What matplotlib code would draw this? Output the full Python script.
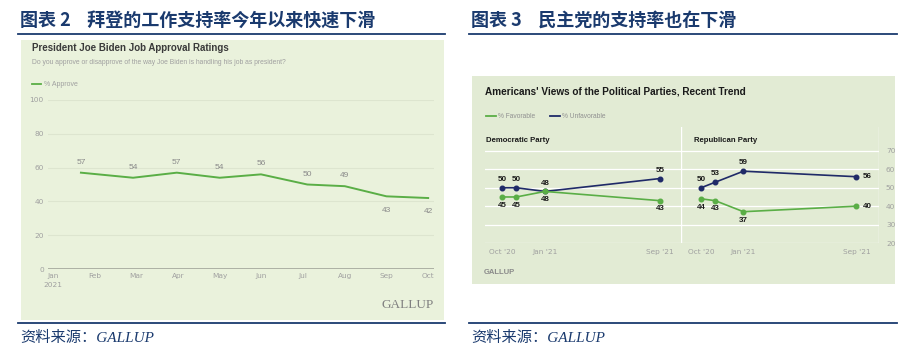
import matplotlib
matplotlib.use("Agg")
import matplotlib.pyplot as plt
from matplotlib.patches import Rectangle
from matplotlib.lines import Line2D

W, H = 912, 350

# ---------------- data ----------------
months = ["Jan\n2021", "Feb", "Mar", "Apr", "May", "Jun", "Jul", "Aug", "Sep", "Oct"]
approve_pos = [0.67, 1.92, 2.97, 4.0, 4.99, 6.1, 7.0, 8.0, 9.0]
approve = [57, 54, 57, 54, 56, 50, 49, 43, 42]
approve_yticks = [0, 20, 40, 60, 80, 100]

party_pos = [0, 1, 3, 11]            # months after Oct 2020
party_xticks = [0, 3, 11]
party_xlabels = ["Oct '20", "Jan '21", "Sep '21"]
dem_unfav = [50, 50, 48, 55]
dem_fav = [45, 45, 48, 43]
rep_unfav = [50, 53, 59, 56]
rep_fav = [44, 43, 37, 40]
party_yticks = [20, 30, 40, 50, 60, 70]

NAVY_T = "#1a3a6e"
GREEN = "#5aae46"
NAVY = "#1f2a68"
BG_L = "#eaf2dc"
BG_R = "#e2ebd4"


def fx(x):
    return x / W


def fy(y):
    return 1 - y / H


fig = plt.figure(figsize=(W / 100, H / 100), dpi=100)
fig.patch.set_facecolor("white")

# backgrounds
fig.patches.append(Rectangle((fx(21), fy(320)), (444 - 21) / W, (320 - 40) / H,
                             transform=fig.transFigure, facecolor=BG_L, edgecolor="none", zorder=-5))
fig.patches.append(Rectangle((fx(472), fy(284)), (895 - 472) / W, (284 - 76) / H,
                             transform=fig.transFigure, facecolor=BG_R, edgecolor="none", zorder=-5))

# rules
for (x0, x1) in [(18, 445), (469, 897)]:
    for y in (34, 323):
        fig.add_artist(Line2D([fx(x0), fx(x1)], [fy(y), fy(y)], transform=fig.transFigure,
                              color=NAVY_T, lw=1.3))

cjk = ["Noto Sans CJK SC", "DejaVu Sans"]
fig.text(fx(20), fy(20), "图表 2    拜登的工作支持率今年以来快速下滑", family=cjk, fontsize=13,
         fontweight="bold", color=NAVY_T, va="center", ha="left")
fig.text(fx(471), fy(20), "图表 3    民主党的支持率也在下滑", family=cjk, fontsize=13,
         fontweight="bold", color=NAVY_T, va="center", ha="left")
src_fam = ["Liberation Serif", "Noto Sans CJK SC"]
for x in (20, 471):
    fig.text(fx(x), fy(338), "资料来源：GALLUP", family=src_fam, fontsize=11, style="italic",
             color=NAVY_T, va="center", ha="left")

# ---------------- left chart ----------------
fig.text(fx(32), fy(48), "President Joe Biden Job Approval Ratings", fontsize=7.0,
         fontweight="bold", color="#3a3a3a", va="center", family="Liberation Sans")
fig.text(fx(32), fy(62), "Do you approve or disapprove of the way Joe Biden is handling his job as president?",
         fontsize=4.9, color="#a0a0a0", va="center", family="Liberation Sans")
fig.add_artist(Line2D([fx(32), fx(41)], [fy(84), fy(84)], transform=fig.transFigure, color=GREEN, lw=1.3))
fig.text(fx(44), fy(84), "% Approve", fontsize=5.0, color="#a0a0a0", va="center", family="Liberation Sans")
fig.text(fx(434), fy(305), "GALLUP", fontsize=9.5, color="#808080", va="center", ha="right",
         family="Liberation Serif")

axL = fig.add_axes([fx(48), fy(269), (434 - 48) / W, (269 - 100) / H])
axL.set_facecolor("none")
axL.set_xlim(-0.12, 9.14)
axL.set_ylim(0, 100)
for s in axL.spines.values():
    s.set_visible(False)
axL.set_yticks(approve_yticks)
axL.set_yticklabels([str(v) for v in approve_yticks])
axL.set_xticks(range(len(months)))
axL.set_xticklabels(months)
axL.tick_params(length=0, labelsize=5.3, labelcolor="#a0a0a0", pad=3)
for lab in axL.get_xticklabels():
    lab.set_linespacing(1.6)
axL.grid(axis="y", color="#dde5cf", lw=0.8)
axL.set_axisbelow(True)
axL.axhline(0, color="#a8aca0", lw=1.3)
axL.plot(approve_pos, approve, color=GREEN, lw=1.4, solid_joinstyle="round")
for i, (xp, v) in enumerate(zip(approve_pos, approve)):
    below = i >= len(approve) - 2
    axL.annotate(str(v), (xp, v), xytext=(0, -10 if below else 7.5), textcoords="offset points",
                 ha="center", va="center", fontsize=6, color="#8a8a8a", family="Liberation Sans")

# ---------------- right chart ----------------
fig.text(fx(485), fy(92), "Americans' Views of the Political Parties, Recent Trend", fontsize=7.2,
         fontweight="bold", color="#1a1a1a", va="center", family="Liberation Sans")
fig.add_artist(Line2D([fx(486), fx(496)], [fy(116), fy(116)], transform=fig.transFigure, color=GREEN, lw=1.3))
fig.text(fx(498), fy(116), "% Favorable", fontsize=4.8, color="#909090", va="center", family="Liberation Sans")
fig.add_artist(Line2D([fx(550), fx(560)], [fy(116), fy(116)], transform=fig.transFigure, color=NAVY, lw=1.3))
fig.text(fx(562), fy(116), "% Unfavorable", fontsize=4.8, color="#909090", va="center", family="Liberation Sans")
fig.text(fx(484), fy(273), "GALLUP", fontsize=5.5, color="#8a8a8a", va="center", family="Liberation Sans",
         fontweight="bold")

panels = [
    ("Democratic Party", 485, 681, 486, (-1.18, 12.47), dem_unfav, dem_fav),
    ("Republican Party", 681, 879, 694, (-1.42, 12.6), rep_unfav, rep_fav),
]
axes_r = []
for name, x0, x1, xn, xl, unfav, fav in panels:
    ax = fig.add_axes([fx(x0), fy(243), (x1 - x0) / W, (243 - 127) / H])
    ax.set_facecolor("none")
    ax.set_xlim(*xl)
    ax.set_ylim(20, 83)
    for s in ax.spines.values():
        s.set_visible(False)
    ax.set_yticks(party_yticks)
    ax.set_xticks(party_xticks)
    ax.set_xticklabels(party_xlabels)
    ax.tick_params(length=0, labelsize=5.3, labelcolor="#a0a0a0", pad=4)
    ax.grid(axis="y", color="white", lw=0.9)
    ax.set_axisbelow(True)
    ax.plot(party_pos, unfav, color=NAVY, lw=1.2, marker="o", ms=3.3, zorder=3)
    ax.plot(party_pos, fav, color=GREEN, lw=1.2, marker="o", ms=3.3, zorder=3)
    fig.text(fx(xn), fy(141), name, fontsize=5.6, fontweight="bold",
             color="#1a1a1a", va="center", family="Liberation Sans")
    axes_r.append(ax)

axD, axR = axes_r
axD.set_yticklabels([])
axR.yaxis.tick_right()
axR.set_yticklabels([str(v) for v in party_yticks])
axR.tick_params(axis="y", pad=5)
axR.axvline(axR.get_xlim()[0], color="white", lw=1.0)
axR.axvline(axR.get_xlim()[1], color="white", lw=1.0)

lab_kw = dict(textcoords="offset points", ha="center", va="center", fontsize=5.8,
              fontweight="bold", color="#1a1a1a", family="Liberation Sans")
for i, (xp, v) in enumerate(zip(party_pos, dem_unfav)):
    axD.annotate(str(v), (xp, v), xytext=(0, 6), **lab_kw)
for i, (xp, v) in enumerate(zip(party_pos, dem_fav)):
    axD.annotate(str(v), (xp, v), xytext=(0, -6), **lab_kw)
for i, (xp, v) in enumerate(zip(party_pos, rep_unfav)):
    off = (8, 0) if i == len(party_pos) - 1 else (0, 6)
    axR.annotate(str(v), (xp, v), xytext=off, **lab_kw)
for i, (xp, v) in enumerate(zip(party_pos, rep_fav)):
    off = (8, 0) if i == len(party_pos) - 1 else (0, -6)
    axR.annotate(str(v), (xp, v), xytext=off, **lab_kw)

fig.savefig("out.png", dpi=100, facecolor="white")
